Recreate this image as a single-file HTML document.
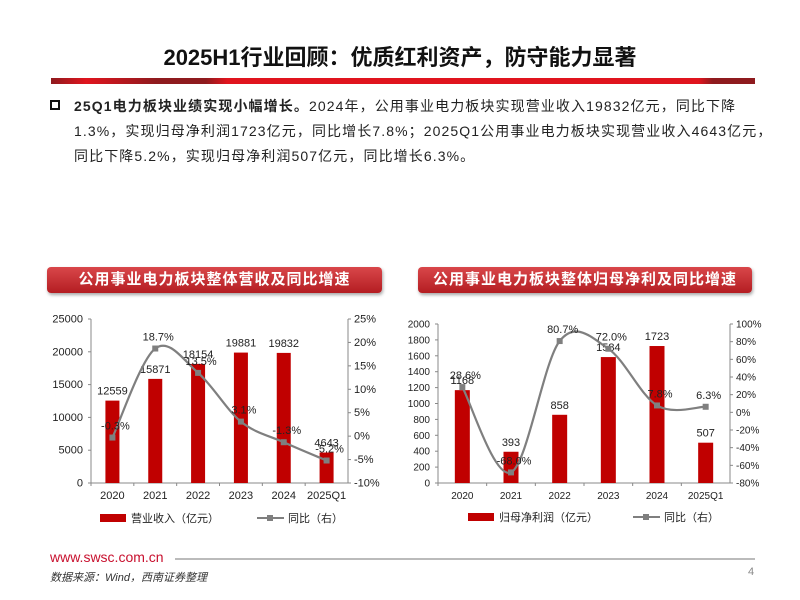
<!DOCTYPE html>
<html><head><meta charset="utf-8"><style>
body{margin:0;width:800px;height:600px;background:#fff;position:relative;overflow:hidden;font-family:"Liberation Sans","Noto Sans CJK SC",sans-serif;}
.abs{position:absolute;}
.hdr{position:absolute;top:267px;height:26px;border-radius:4px;background:linear-gradient(#d9474a,#b41d22);box-shadow:1px 2px 3px rgba(0,0,0,.35);color:#fff;font-weight:bold;font-size:15px;line-height:26px;text-align:center;letter-spacing:1px;}
svg text{font-family:"Liberation Sans","Noto Sans CJK SC",sans-serif;}
</style></head><body>
<div class="abs" style="left:0;width:800px;top:40px;text-align:center;font-size:22px;font-weight:bold;color:#111;">2025H1行业回顾：优质红利资产，防守能力显著</div>
<div class="abs" style="left:51px;top:78px;width:704px;height:6px;background:linear-gradient(90deg,#8e1a1e 0%,#e0141e 5%,#8e1a1e 15%,#8e1a1e 22%,#e0141e 25%,#e0141e 92%,#8e1a1e 94%,#8e1a1e 100%);"></div>
<div class="abs" style="left:50px;top:94px;width:740px;font-size:14px;line-height:25px;color:#222;white-space:nowrap;letter-spacing:1.1px;">
<div style="position:absolute;left:0;top:6px;width:10px;height:10px;border:2px solid #111;box-sizing:border-box;"></div>
<div style="padding-left:24px;"><b>25Q1电力板块业绩实现小幅增长。</b>2024年，公用事业电力板块实现营业收入19832亿元，同比下降<br>1.3%，实现归母净利润1723亿元，同比增长7.8%；2025Q1公用事业电力板块实现营业收入4643亿元，<br>同比下降5.2%，实现归母净利润507亿元，同比增长6.3%。</div></div>
<div class="hdr" style="left:47px;width:335px;">公用事业电力板块整体营收及同比增速</div>
<div class="hdr" style="left:418px;width:334px;">公用事业电力板块整体归母净利及同比增速</div>
<svg id="c1" class="abs" style="left:0;top:0" width="800" height="600"></svg>
<div class="abs" style="left:50px;top:549px;color:#c8102e;font-size:14px;">www.swsc.com.cn</div>
<div class="abs" style="left:175px;top:558px;width:580px;height:2px;background:#bbb;"></div>
<div class="abs" style="left:50px;top:569px;font-size:11px;font-style:italic;color:#333;">数据来源：Wind，西南证券整理</div>
<div class="abs" style="left:748px;top:566px;font-size:11px;color:#888;">4</div>
<script>
const cats=["2020","2021","2022","2023","2024","2025Q1"];
const rev=[12559,15871,18154,19881,19832,4643];
const revYoy=[-0.3,18.7,13.5,3.1,-1.3,-5.2];
const prof=[1168,393,858,1584,1723,507];
const profYoy=[28.6,-68.0,80.7,72.0,7.8,6.3];
const ticks1L=[0,5000,10000,15000,20000,25000];
const ticks1R=[-10,-5,0,5,10,15,20,25];
const ticks2L=[0,200,400,600,800,1000,1200,1400,1600,1800,2000];
const ticks2R=[-80,-60,-40,-20,0,20,40,60,80,100];
const svg=document.getElementById('c1');const NS='http://www.w3.org/2000/svg';
function mk(t,a,txt){const e=document.createElementNS(NS,t);for(const k in a)e.setAttribute(k,a[k]);if(txt!==undefined)e.textContent=txt;svg.appendChild(e);return e;}
function spline(p){let d=`M${p[0][0]},${p[0][1]}`;for(let i=0;i<p.length-1;i++){const p0=p[i-1]||p[i],p1=p[i],p2=p[i+1],p3=p[i+2]||p2;const t=0.5/3*2;d+=` C${p1[0]+(p2[0]-p0[0])*t/2},${p1[1]+(p2[1]-p0[1])*t/2} ${p2[0]-(p3[0]-p1[0])*t/2},${p2[1]-(p3[1]-p1[1])*t/2} ${p2[0]},${p2[1]}`;}return d;}
function chart(o){
const x0=o.x0,x1=o.x1,yT=o.yT,yB=o.yB,bw=(x1-x0)/cats.length;
const yL=v=>yB-(v-o.lMin)/(o.lMax-o.lMin)*(yB-yT);
const yR=v=>yB-(v-o.rMin)/(o.rMax-o.rMin)*(yB-yT);
const cx=i=>x0+bw*(i+0.5);
let e;
e=mk('line',{x1:x0,x2:x0,y1:yT,y2:yB,stroke:'#888'});
e=mk('line',{x1:x1,x2:x1,y1:yT,y2:yB,stroke:'#888'});
e=mk('line',{x1:x0,x2:x1,y1:yB,y2:yB,stroke:'#888'});
o.tl.forEach(v=>{mk('line',{x1:x0-3,x2:x0,y1:yL(v),y2:yL(v),stroke:'#888'});e=mk('text',{x:x0-8,y:yL(v)+3.5,'text-anchor':'end','font-size':o.fs,fill:'#222'},v);});
o.tr.forEach(v=>{mk('line',{x1:x1,x2:x1+3,y1:yR(v),y2:yR(v),stroke:'#888'});e=mk('text',{x:x1+6,y:yR(v)+3.5,'font-size':o.fs,fill:'#222'},v+'%');});
cats.forEach((c,i)=>{mk('line',{x1:x0+bw*i,x2:x0+bw*i,y1:yB,y2:yB+3,stroke:'#888'});e=mk('text',{x:cx(i),y:yB+16,'text-anchor':'middle','font-size':o.fs,fill:'#222'},c);});
o.bars.forEach((v,i)=>{e=mk('rect',{x:cx(i)-o.barW/2,y:yL(v),width:o.barW,height:yB-yL(v),fill:'#c00000'});
e=mk('text',{x:cx(i),y:yL(v)-6,'text-anchor':'middle','font-size':11,fill:'#222'},v);});
const pts=o.line.map((v,i)=>[cx(i),yR(v)]);
e=mk('path',{d:spline(pts),fill:'none',stroke:'#7f7f7f','stroke-width':2.2});
pts.forEach((p,i)=>{e=mk('rect',{x:p[0]-3,y:p[1]-3,width:6,height:6,fill:'#7f7f7f'});
e=mk('text',{x:p[0]+3,y:p[1]-8,'text-anchor':'middle','font-size':11,fill:'#222'},o.line[i].toFixed(1)+'%');});
e=mk('rect',{x:o.lg1,y:o.lgY-4,width:26,height:8,fill:'#c00000'});
mk('text',{x:o.lg1+31,y:o.lgY+4,'font-size':11,fill:'#222'},o.barName);
e=mk('line',{x1:o.lg2,x2:o.lg2+27,y1:o.lgY,y2:o.lgY,stroke:'#7f7f7f','stroke-width':2});
mk('rect',{x:o.lg2+10,y:o.lgY-3,width:6,height:6,fill:'#7f7f7f'});
mk('text',{x:o.lg2+31,y:o.lgY+4,'font-size':11,fill:'#222'},'同比（右）');
}
chart({x0:91,x1:348,yT:319,yB:483,lMin:0,lMax:25000,rMin:-10,rMax:25,tl:ticks1L,tr:ticks1R,bars:rev,line:revYoy,barW:14,fs:11,lg1:100,lg2:257,lgY:518,barName:'营业收入（亿元）'});
chart({x0:438,x1:730,yT:324,yB:483,lMin:0,lMax:2000,rMin:-80,rMax:100,tl:ticks2L,tr:ticks2R,bars:prof,line:profYoy,barW:15,fs:10,lg1:468,lg2:633,lgY:517,barName:'归母净利润（亿元）'});
</script>
</body></html>
